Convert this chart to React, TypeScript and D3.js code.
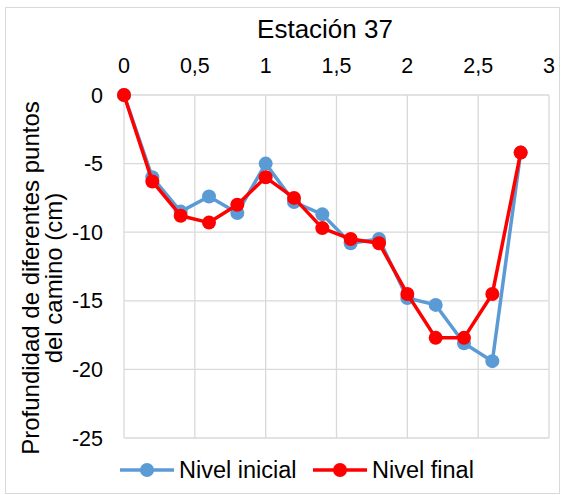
import React from "react";
import * as d3 from "d3";

const xs = [0, 0.2, 0.4, 0.6, 0.8, 1.0, 1.2, 1.4, 1.6, 1.8, 2.0, 2.2, 2.4, 2.6, 2.8];
const nivelInicial = [0, -6.0, -8.5, -7.4, -8.6, -5.0, -7.8, -8.7, -10.8, -10.5, -14.8, -15.3, -18.1, -19.4, -4.2];
const nivelFinal = [0, -6.3, -8.8, -9.3, -8.0, -6.0, -7.5, -9.7, -10.5, -10.8, -14.5, -17.7, -17.7, -14.5, -4.2];
const xTicks = [0, 0.5, 1, 1.5, 2, 2.5, 3];
const yTicks = [0, -5, -10, -15, -20, -25];
const seriesNames = ["Nivel inicial", "Nivel final"];
const colors = ["#5b9bd5", "#ff0000"];

const W = 565, H = 495;
const FONT = "Liberation Sans, Arial, sans-serif";

export default function App() {
  const x = d3.scaleLinear().domain([0, 3]).range([124, 549]);
  const y = d3.scaleLinear().domain([0, -25]).range([95, 438]);
  const fmt = (v: number) => String(v).replace(".", ",");
  const line = d3.line<number>().x((_, i) => x(xs[i])).y((d) => y(d));
  const series = [nivelInicial, nivelFinal];

  return (
    <svg width={W} height={H} style={{ position: "absolute", left: 0, top: 0 }}>
      <rect x={0} y={0} width={W} height={H} fill="#fff" />
      <rect x={5.5} y={7.5} width={554} height={486} fill="#fff" stroke="#d9d9d9" />
      <text x={325} y={38} fontFamily={FONT} fontSize={26} textAnchor="middle" fill="#000">Estación 37</text>
      {xTicks.map((t) => (
        <line key={"gx" + t} x1={x(t)} x2={x(t)} y1={y(0)} y2={y(-25)} stroke="#d9d9d9" strokeWidth={1.3} />
      ))}
      {yTicks.map((t) => (
        <line key={"gy" + t} x1={x(0)} x2={x(3)} y1={y(t)} y2={y(t)} stroke="#d9d9d9" strokeWidth={1.3} />
      ))}
      {xTicks.map((t) => (
        <text key={"tx" + t} x={x(t)} y={73} fontFamily={FONT} fontSize={21.5} textAnchor="middle" fill="#000">{fmt(t)}</text>
      ))}
      {yTicks.map((t) => (
        <text key={"ty" + t} x={103} y={y(t) + 7.5} fontFamily={FONT} fontSize={21.5} textAnchor="end" fill="#000">{fmt(t)}</text>
      ))}
      <text transform={`translate(39,278) rotate(-90)`} fontFamily={FONT} fontSize={24} textAnchor="middle" fill="#000">
        <tspan x={0} dy={0}>Profundidad de diferentes puntos</tspan>
        <tspan x={0} dy={23}>del camino (cm)</tspan>
      </text>
      {series.map((s, k) => (
        <g key={"s" + k}>
          <path d={line(s) || ""} fill="none" stroke={colors[k]} strokeWidth={3.5} strokeLinejoin="round" />
          {s.map((v, i) => (
            <circle key={i} cx={x(xs[i])} cy={y(v)} r={7} fill={colors[k]} />
          ))}
        </g>
      ))}
      {seriesNames.map((n, k) => {
        const lx = k === 0 ? 120 : 313;
        return (
          <g key={"l" + k}>
            <line x1={lx} x2={lx + 54} y1={470} y2={470} stroke={colors[k]} strokeWidth={3.5} />
            <circle cx={lx + 27} cy={470} r={7} fill={colors[k]} />
            <text x={lx + 59} y={478} fontFamily={FONT} fontSize={23.5} fill="#000">{n}</text>
          </g>
        );
      })}
    </svg>
  );
}
